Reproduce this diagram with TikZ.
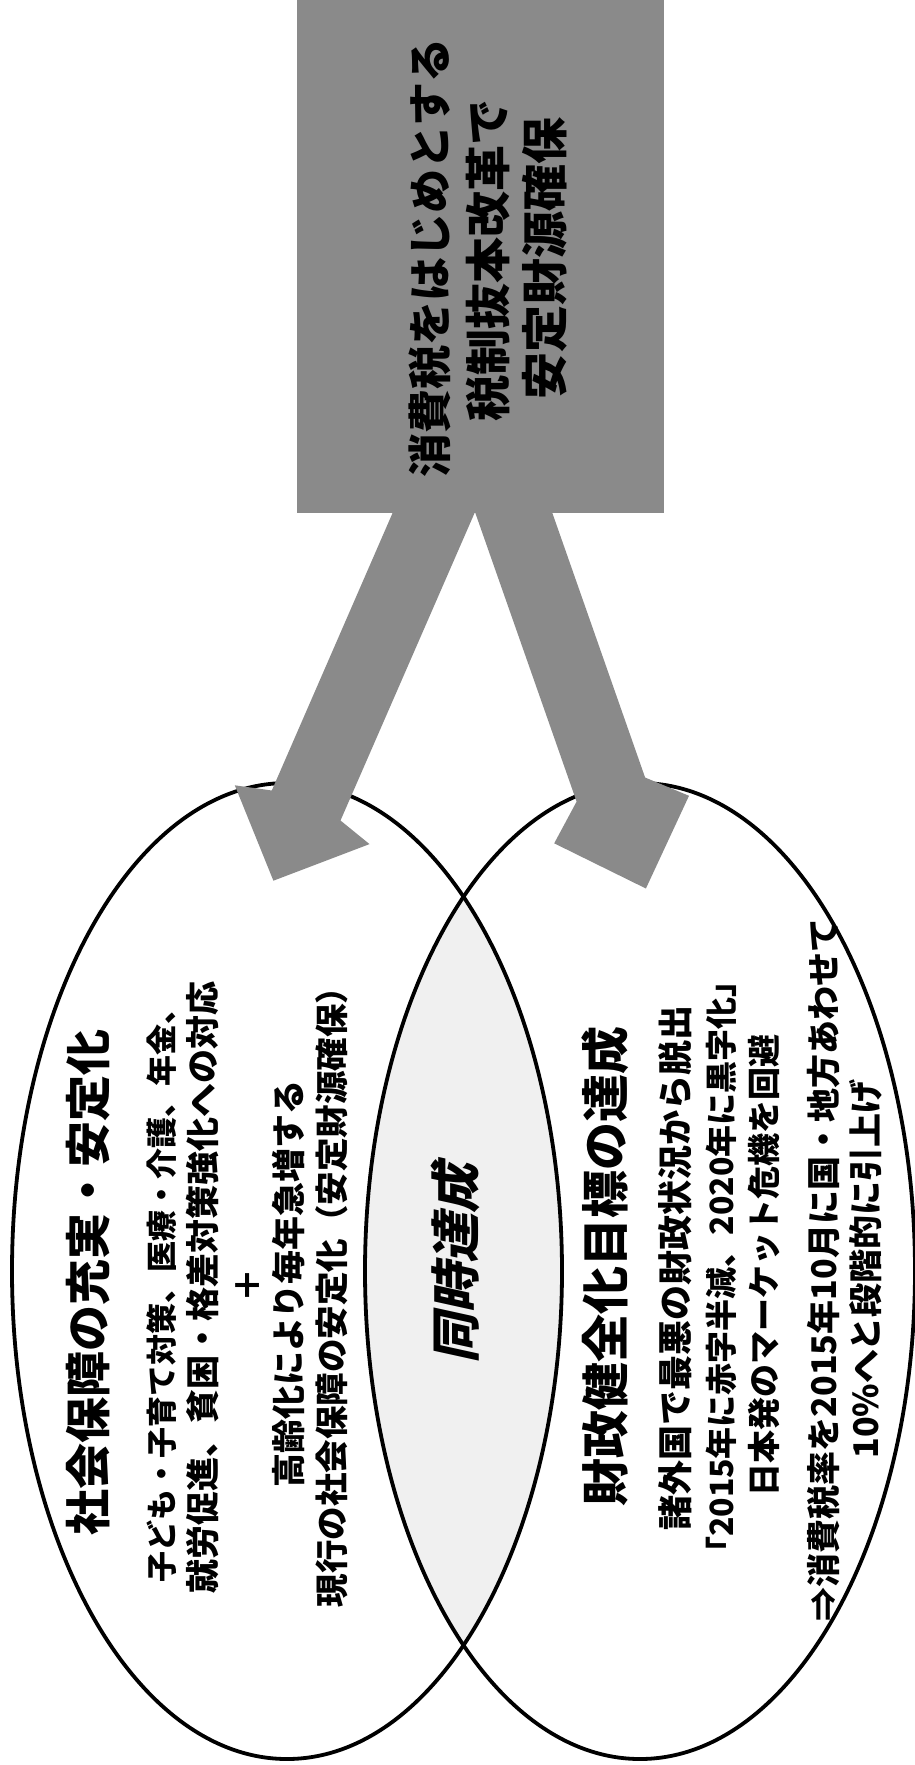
\documentclass[tikz,border=0pt]{standalone}
\usepackage{fontspec}
\newfontfamily\jp{Noto Sans CJK JP}
\newfontfamily\jpsl{Noto Sans CJK JP}[FakeSlant=0.22]
\usetikzlibrary{shapes.geometric}
\newcommand{\fs}[1]{\fontsize{#1pt}{#1pt}\selectfont}
\begin{document}
\begin{tikzpicture}[x=1pt,y=-1pt,
  blockfill/.style={fill=black!46},
  ring/.style={draw=black, line width=3.8pt, ellipse, minimum width=550pt, minimum height=976pt, inner sep=0pt},
  jtxt/.style={rotate=90, inner sep=0pt, anchor=center, text=black},
  bigt/.style={jtxt, font={\jp\bfseries\fs{46}}},
  smallt/.style={jtxt, font={\jp\bfseries\fs{34}}}]
\useasboundingbox (0,0) rectangle (914,1765);
% overlap lens
\begin{scope}
  \clip (287,1271) ellipse [x radius=275, y radius=488];
  \fill[black!6] (640,1271) ellipse [x radius=275, y radius=488];
\end{scope}
% ellipses
\node[ring] (soc) at (287,1271) {};
\node[ring] (fin) at (640,1271) {};
% box
\node[blockfill, minimum width=367pt, minimum height=513pt, inner sep=0pt] (box) at (480.5,256.5) {};
% block arrows
\coordinate (la1) at (393,512);
\coordinate (la2) at (475,512);
\coordinate (ra1) at (475,512);
\coordinate (ra2) at (552,512);
\fill[blockfill] (la1) -- (la2) -- (340.5,820.5) -- (369.5,844.1) -- (273.4,880.7) -- (234.8,785.3) -- (271.8,790.5) -- cycle;
\fill[blockfill] (ra1) -- (ra2) -- (645.1,777.5) -- (689,795.8) -- (645.9,888.5) -- (554.2,843.3) -- (576.6,801.6) -- cycle;
% box text
\node[jtxt, font={\jp\bfseries\fs{44}}] (b1) at (430,258) {消費税をはじめとする};
\node[jtxt, font={\jp\bfseries\fs{46}}] (b2) at (488,260) {税制抜本改革で};
\node[jtxt, font={\jp\bfseries\fs{47}}] (b3) at (545,258) {安定財源確保};
% left ellipse text
\node[bigt] (t1) at (88,1282) {社会保障の充実・安定化};
\node[smallt, font={\jp\bfseries\fs{31}}] (t2) at (162,1288) {子ども・子育て対策、医療・介護、年金、};
\node[smallt] (t3) at (203,1287) {就労促進、貧困・格差対策強化への対応};
\node[smallt] (plus) at (248,1285) {＋};
\node[smallt] (t4) at (289,1284) {高齢化により毎年急増する};
\node[smallt, font={\jp\bfseries\fs{33.5}}] (t5) at (332,1289) {現行の社会保障の安定化（安定財源確保）};
% overlap text
\node[jtxt, font={\jpsl\bfseries\fs{50}}] (sim) at (455,1263) {同時達成};
% right ellipse text
\node[bigt, font={\jp\bfseries\fs{48}}] (r1) at (605,1266) {財政健全化目標の達成};
\node[smallt, font={\jp\bfseries\fs{35}}] (r2) at (675,1268) {諸外国で最悪の財政状況から脱出};
\node[smallt, font={\jp\bfseries\fs{32}}] (r3) at (721,1267) {「2015年に赤字半減、2020年に黒字化」};
\node[smallt, font={\jp\bfseries\fs{33}}] (r4) at (764,1265) {日本発のマーケット危機を回避};
\node[smallt] (r5) at (824,1270) {⇒消費税率を2015年10月に国・地方あわせて};
\node[smallt] (r6) at (866,1269) {10\%へと段階的に引上げ};
\end{tikzpicture}
\end{document}
